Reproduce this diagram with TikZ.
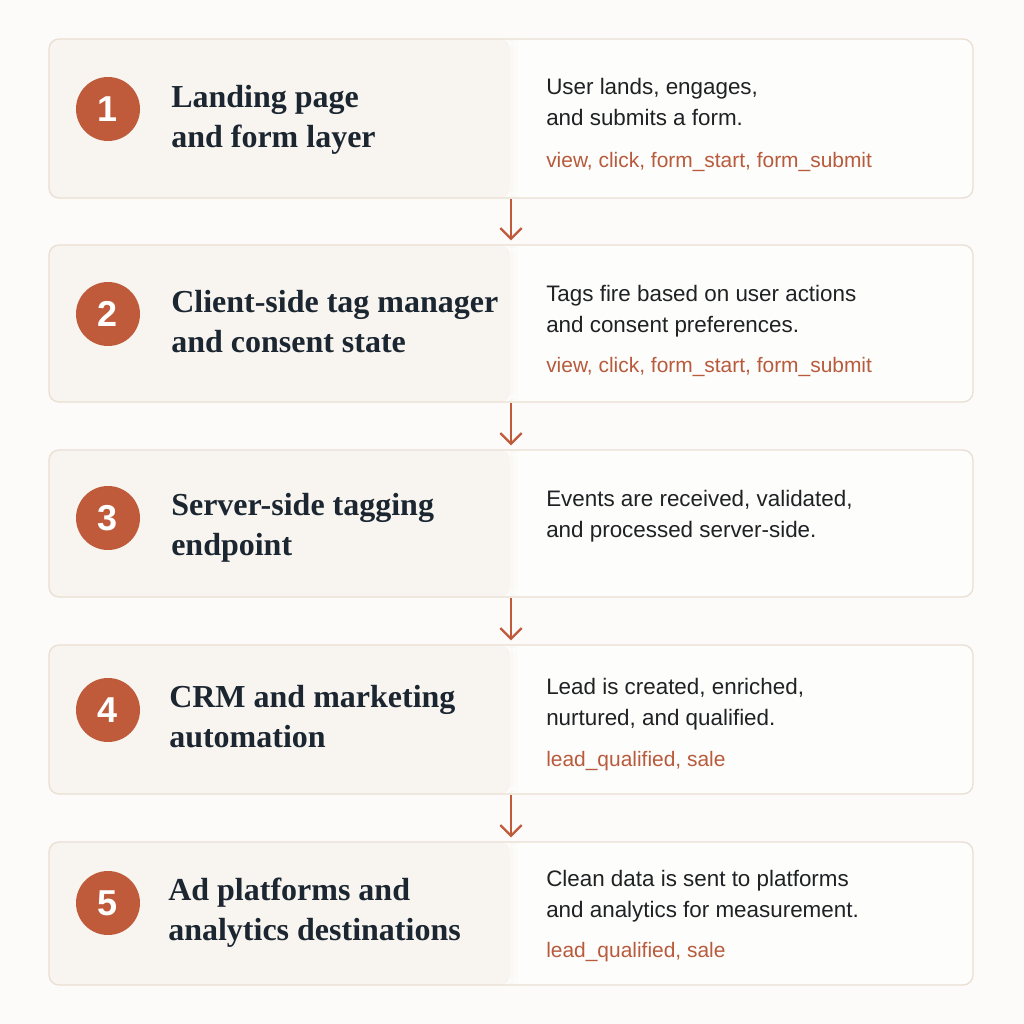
\documentclass[tikz,border=0pt]{standalone}
\usepackage{fontspec}
\setmainfont{Liberation Sans}
\newfontfamily\titleserif{Liberation Serif}
\usetikzlibrary{arrows.meta}
\definecolor{pagebg}{HTML}{FCFBF9}
\definecolor{leftfill}{HTML}{F8F5F0}
\definecolor{rightfill}{HTML}{FDFDFB}
\definecolor{boxborder}{HTML}{EADFD3}
\definecolor{accent}{HTML}{BF5A3A}
\definecolor{titlecol}{HTML}{1B2631}
\definecolor{bodycol}{HTML}{1F2124}
\definecolor{tagcol}{HTML}{B85A3C}
\tikzset{
  card/.style={draw=boxborder, line width=1pt, fill=rightfill, rounded corners=7.5pt,
    minimum width=693pt, minimum height=#1, inner sep=0pt, outer sep=0pt,
    path picture={
      \fill[leftfill] (path picture bounding box.north west) rectangle ([xshift=-0.5pt]path picture bounding box.south);
      \fill[leftfill!60!rightfill] ([xshift=-0.6pt]path picture bounding box.north) rectangle ([xshift=2pt]path picture bounding box.south);
      \fill[leftfill!25!rightfill] ([xshift=1.9pt]path picture bounding box.north) rectangle ([xshift=5pt]path picture bounding box.south);
    }},
  badge/.style={circle, fill=accent, minimum size=48pt, inner sep=0pt, text=white,
    font=\fontsize{27}{27}\selectfont\bfseries},
  steptitle/.style={anchor=base west, align=left, inner sep=0pt, text=titlecol,
    font=\titleserif\fontsize{24}{30}\selectfont\bfseries},
  stepdesc/.style={anchor=base west, align=left, inner sep=0pt, text=bodycol,
    font=\fontsize{16.8}{23.25}\selectfont},
  steptags/.style={anchor=base west, inner sep=0pt, text=tagcol,
    font=\fontsize{15.7}{18}\selectfont},
  flow/.style={draw=accent, line width=1.7pt, -{Straight Barb[length=8pt,width=16pt,line width=1.7pt]},
    shorten >=3.5pt, shorten <=0.75pt}
}
\begin{document}
\begin{tikzpicture}[x=0.75pt, y=-0.75pt]
\fill[pagebg] (0,0) rectangle (1024,1024);
\useasboundingbox (0,0) rectangle (1024,1024);

\node[card=119.25pt] (b1) at (511,118.5) {};
\node[card=117.75pt] (b2) at (511,323.5) {};
\node[card=110.25pt] (b3) at (511,523.5) {};
\node[card=111.75pt] (b4) at (511,719.5) {};
\node[card=107.25pt] (b5) at (511,913.5) {};

\node[badge] (n1) at (108,109) {1};
\node[badge] (n2) at (108,314) {2};
\node[badge] (n3) at (108,518) {3};
\node[badge] (n4) at (108,710) {4};
\node[badge] (n5) at (108,903) {5};

\node[steptitle] (t1) at (171,147) {Landing page\\and form layer};
\node[steptitle] (t2) at (171,352) {Client-side tag manager\\and consent state};
\node[steptitle] (t3) at (171,555) {Server-side tagging\\endpoint};
\node[steptitle] (t4) at (169,747) {CRM and marketing\\automation};
\node[steptitle] (t5) at (168,940) {Ad platforms and\\analytics destinations};

\node[stepdesc] (d1) at (546,125) {User lands, engages,\\and submits a form.};
\node[stepdesc] (d2) at (546,332) {Tags fire based on user actions\\and consent preferences.};
\node[stepdesc] (d3) at (546,537) {Events are received, validated,\\and processed server-side.};
\node[stepdesc] (d4) at (546,725) {Lead is created, enriched,\\nurtured, and qualified.};
\node[stepdesc] (d5) at (546,917) {Clean data is sent to platforms\\and analytics for measurement.};

\node[steptags] (g1) at (546,167) {view, click, form\_start, form\_submit};
\node[steptags] (g2) at (546,372) {view, click, form\_start, form\_submit};
\node[steptags] (g4) at (546,766) {lead\_qualified, sale};
\node[steptags] (g5) at (546,957) {lead\_qualified, sale};

\draw[flow] (b1.south) -- (b2.north);
\draw[flow] (b2.south) -- (b3.north);
\draw[flow] (b3.south) -- (b4.north);
\draw[flow] (b4.south) -- (b5.north);
\end{tikzpicture}
\end{document}
